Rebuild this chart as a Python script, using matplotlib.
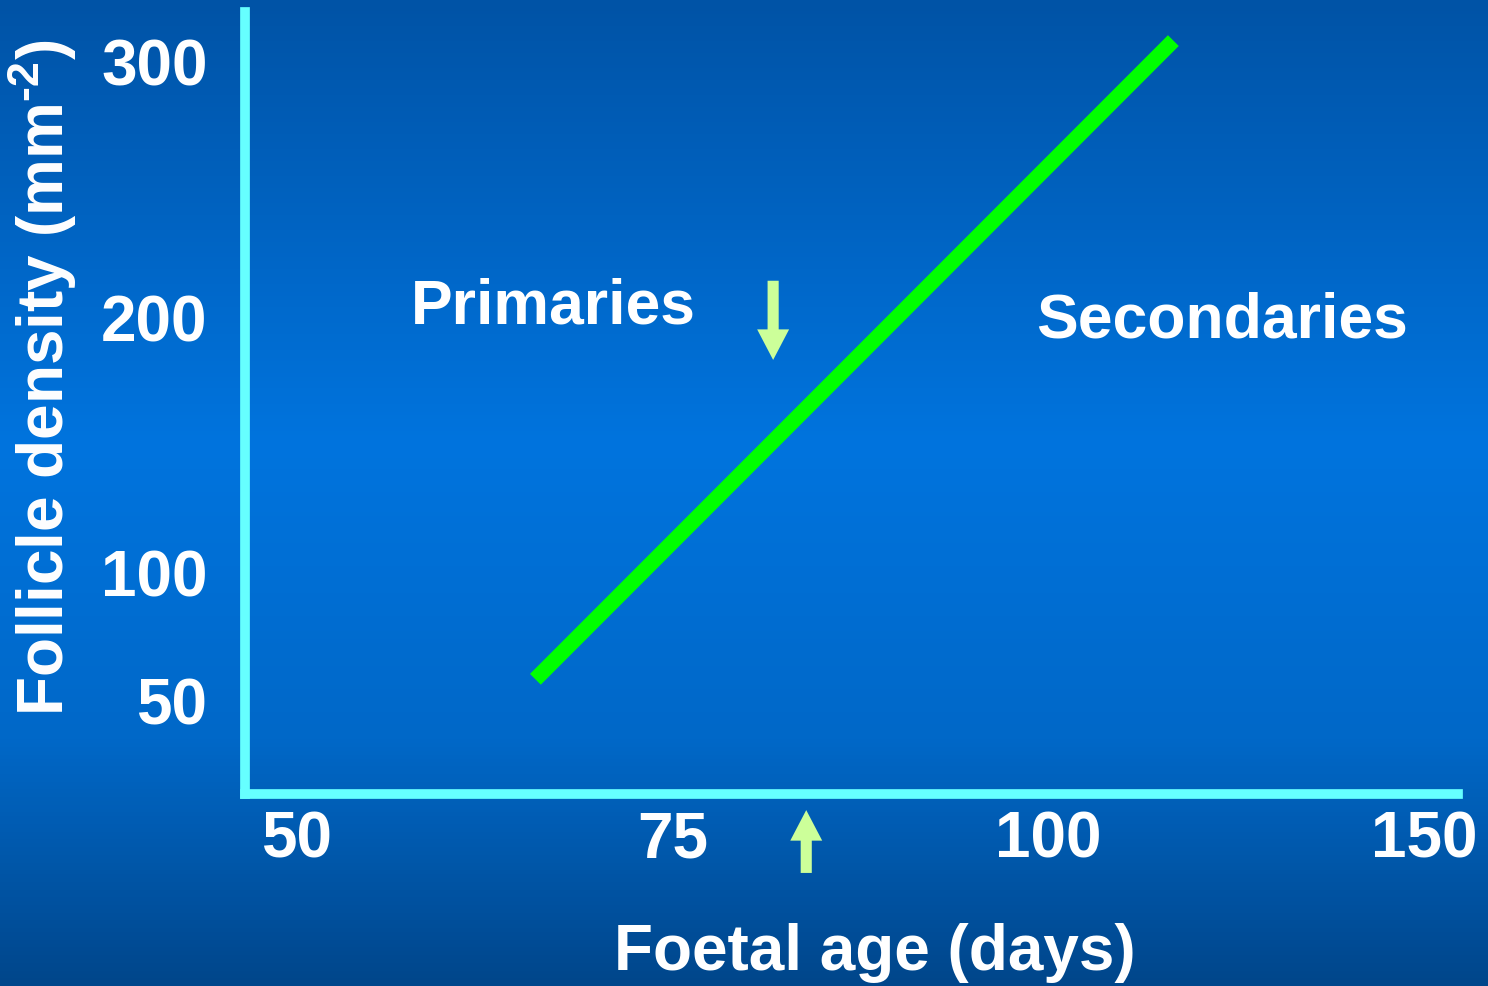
import numpy as np
import matplotlib
matplotlib.use("Agg")
import matplotlib.pyplot as plt
from matplotlib.colors import LinearSegmentedColormap

plt.rcParams["font.family"] = ["Liberation Sans", "DejaVu Sans"]
plt.rcParams["font.weight"] = "bold"
plt.rcParams["mathtext.fontset"] = "custom"
plt.rcParams["mathtext.rm"] = "Liberation Sans:bold"
plt.rcParams["mathtext.bf"] = "Liberation Sans:bold"

# data
age_ticks = [50, 75, 100, 150]
density_ticks = [50, 100, 200, 300]
line_age = [65.9, 116.6]
line_density = [58, 308]
down_arrow_age = 81.7
down_arrow_density = [214, 183]      # tail, tip
up_arrow_age = 83.9
up_arrow_density = [-17.8, 6.8]      # tail, tip (below the axis)
region_labels = ["Primaries", "Secondaries"]
region_age = [67.1, 123.1]
region_density = [197.8, 192.0]


def fwd(d):
    # ticks 50/75/100/150 sit equally spaced on the slide
    d = np.asarray(d, float)
    return np.where(d < 75, (d - 50) / 25, np.where(d < 100, 1 + (d - 75) / 25, 2 + (d - 100) / 50))


def inv(p):
    p = np.asarray(p, float)
    return np.where(p < 1, 50 + 25 * p, np.where(p < 2, 75 + 25 * (p - 1), 100 + 50 * (p - 2)))


fig = plt.figure(figsize=(14.88, 9.87), dpi=100)

# gradient background
bg = fig.add_axes([0, 0, 1, 1], zorder=-10)
cmap = LinearSegmentedColormap.from_list(
    "slide", [(0.0, "#0053a6"), (0.45, "#0074de"), (0.75, "#0068c8"), (1.0, "#00468b")])
bg.imshow(np.linspace(0, 1, 256)[:, None], aspect="auto", cmap=cmap, extent=[0, 1, 0, 1])
bg.set_axis_off()

W, H = 1488, 987
ax = fig.add_axes([245 / W, 1 - 795 / H, (1458.5 - 245) / W, (795 - 13.5) / H])
ax.set_facecolor("none")
ax.set_xscale("function", functions=(fwd, inv))
ax.set_xlim(46.6, 154.5)
ax.set_ylim(13.1, 319.0)

ax.plot(line_age, line_density, color="#00ff00", lw=11, solid_capstyle="butt")

arrow_kw = dict(color="#ccff99", width=8, headwidth=23, headlength=22, shrink=0, lw=0)
ax.annotate("", xy=(down_arrow_age, down_arrow_density[1]),
            xytext=(down_arrow_age, down_arrow_density[0]), arrowprops=arrow_kw)
ax.annotate("", xy=(up_arrow_age, up_arrow_density[1]),
            xytext=(up_arrow_age, up_arrow_density[0]), arrowprops=arrow_kw,
            annotation_clip=False)

for lab, x, y in zip(region_labels, region_age, region_density):
    ax.text(x, y, lab, color="white", fontsize=45, fontweight="bold", ha="center", va="baseline")

ax.set_xticks(age_ticks)
ax.set_xticklabels([str(t) for t in age_ticks])
ax.set_yticks(density_ticks)
ax.set_yticklabels([str(t) for t in density_ticks])
ax.minorticks_off()
ax.tick_params(axis="both", length=0, labelcolor="white", labelsize=46)
ax.tick_params(axis="y", pad=27)
ax.tick_params(axis="x", pad=11)
for t in ax.get_xticklabels() + ax.get_yticklabels():
    t.set_fontweight("bold")

for s in ["top", "right"]:
    ax.spines[s].set_visible(False)
for s in ["left", "bottom"]:
    ax.spines[s].set_color("#66ffff")
    ax.spines[s].set_linewidth(7)

fig.text(875 / W, 1 - 970 / H, "Foetal age (days)", color="white", fontsize=46,
         fontweight="bold", ha="center", va="baseline")
fig.text(42 / W, 1 - 378 / H, r"Follicle density (mm$^{\text{-2}}$)", color="white",
         fontsize=46, fontweight="bold", rotation=90, ha="center", va="center")

fig.savefig("out.png", dpi=100)
